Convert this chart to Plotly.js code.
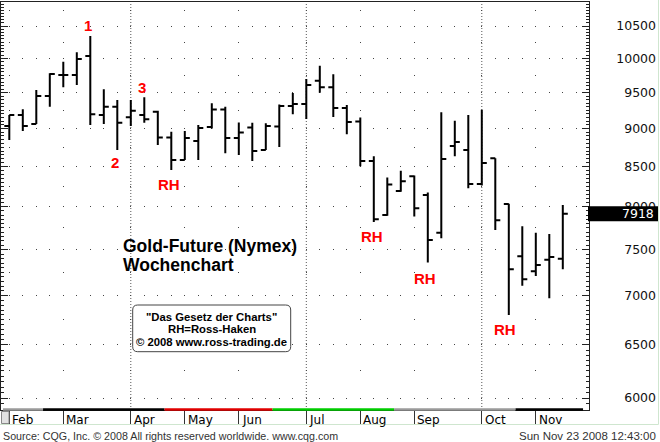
<!DOCTYPE html>
<html><head><meta charset="utf-8">
<script src="https://cdn.plot.ly/plotly-3.0.1.min.js"></script>
<style>html,body{margin:0;padding:0;background:#fff}#chart{width:660px;height:442px}</style>
</head><body><div id="chart"></div>
<script>
// ---- data ----
const weeks = ['2008-02-04','2008-02-11','2008-02-18','2008-02-25','2008-03-03','2008-03-10','2008-03-17','2008-03-24','2008-03-31','2008-04-07','2008-04-14','2008-04-21','2008-04-28','2008-05-05','2008-05-12','2008-05-19','2008-05-26','2008-06-02','2008-06-09','2008-06-16','2008-06-23','2008-06-30','2008-07-07','2008-07-14','2008-07-21','2008-07-28','2008-08-04','2008-08-11','2008-08-18','2008-08-25','2008-09-01','2008-09-08','2008-09-15','2008-09-22','2008-09-29','2008-10-06','2008-10-13','2008-10-20','2008-10-27','2008-11-03','2008-11-10','2008-11-17'];
const open  = [9034,9185,9061,9451,9753,9753,10036,9185,9300,9153,9185,9230,8879,8584,8832,9020,9261,8872,9014,8714,9027,9310,9338,9670,9575,9282,9095,8571,7902,8192,8376,8143,7694,8766,8714,8279,8606,8034,7426,7260,7388,7399];
const high  = [9185,9264,9537,9779,9951,10092,10343,9547,9394,9394,9432,9244,8957,8966,9048,9348,9300,9082,9079,9071,9331,9494,9695,9889,9765,9324,9150,8631,8361,8447,8386,8174,9222,9106,9185,9258,8606,8037,7769,7694,7679,8022];
const low   = [8846,8966,9061,9300,9575,9609,9048,9061,8714,9034,9079,8779,8455,8584,8584,9000,8670,8648,8571,8714,8753,9194,9130,9498,9157,8923,8503,7819,7892,8184,7884,7357,7630,8631,8226,8261,7726,6799,7104,7209,6972,7282];
const close = [9185,9034,9451,9768,9753,9991,9194,9300,9079,9244,9125,8879,8584,8872,9007,9261,8872,8946,8701,9034,9310,9338,9609,9575,9282,9088,8571,7851,8273,8314,7982,7610,8596,8819,8279,8545,7839,7283,7174,7329,7418,7918];
const monthStarts = ['2008-02-04','2008-03-03','2008-04-07','2008-05-05','2008-06-02','2008-07-07','2008-08-04','2008-09-01','2008-10-06','2008-11-03'];
const monthLabels = ['Feb','Mar','Apr','May','Jun','Jul','Aug','Sep','Oct','Nov'];
const quarterStarts = ['2008-04-07','2008-07-07','2008-10-06'];
const priceTicks = [6000,6500,7000,7500,8000,8500,9000,9500,10000,10500];
const trendBreaks = ['2008-01-31 17:00','2008-02-21 12:00','2008-04-24 12:00','2008-06-19 12:00','2008-08-21 12:00','2008-10-23 12:00','2008-11-27 12:00'];
const trendColors = ['#9a9a9a','#000000','#e00000','#00cc00','#9a9a9a','#000000'];
const waveLabels = ['1','2','3','RH','RH','RH','RH'];
const titleLines = ['Gold-Future (Nymex)','Wochenchart'];
const boxLines = ['"Das Gesetz der Charts"','RH=Ross-Haken','© 2008 www.ross-trading.de'];
const sourceText = 'Source: CQG, Inc. © 2008 All rights reserved worldwide. www.cqg.com';
const stampText = 'Sun Nov 23 2008 12:43:00';
const lastClose = close[close.length - 1];

// ---- geometry helpers (pixel -> paper) ----
const L = 1, T = 2, R = 589, B = 410, W = 660;
const px = x => (x - L) / (W - L);
const py = y => (B - y) / (B - T);
const yRange = [3.770373, 4.036865];
const halfBoxFactor = Math.pow(10, 7.5 / ((B - T) / (yRange[1] - yRange[0])));

const minorTicks = []; for (let v = 5900; v <= 10850; v += 50) minorTicks.push(v);
const offTicks = []; for (let v = 6250; v <= 10750; v += 500) offTicks.push(v);

const redPos = [[87.5,25.5],[114.5,162.5],[142,87],[168.5,185],[372,236.5],[425.5,278],[505,329]];
const redFont = {family:'Liberation Sans, Arial, sans-serif', size:15, color:'#ff0000', weight:700};

const annotations = [];
monthStarts.forEach((d,i) => annotations.push({xref:'x', yref:'paper', x:d, y:0, xanchor:'left', yanchor:'top', xshift:1, yshift:-1, text:monthLabels[i], showarrow:false, font:{family:'DejaVu Sans, sans-serif', size:12, color:'#000'}}));
waveLabels.forEach((t,i) => annotations.push({xref:'paper', yref:'paper', x:px(redPos[i][0]), y:py(redPos[i][1]), xanchor:'center', yanchor:'middle', text:t, showarrow:false, font:redFont}));
[[246],[264.5]].forEach((p,i) => annotations.push({xref:'paper', yref:'paper', x:px(121), y:py(p[0]), xanchor:'left', yanchor:'middle', text:titleLines[i], showarrow:false, font:{family:'Liberation Sans, Arial, sans-serif', size:17.5, color:'#000', weight:700}}));
[316.7,328.8,341.5].forEach((yy,i) => annotations.push({xref:'paper', yref:'paper', x:px(212), y:py(yy), xanchor:'center', yanchor:'middle', text:boxLines[i], showarrow:false, font:{family:'Liberation Sans, Arial, sans-serif', size:11.3, color:'#000', weight:700}}));
annotations.push({xref:'paper', yref:'y', x:px(656), y:Math.log10(lastClose), xanchor:'right', yanchor:'middle', text:String(lastClose), showarrow:false, font:{family:'DejaVu Sans, sans-serif', size:12.5, color:'#fff'}});
annotations.push({xref:'paper', yref:'paper', x:px(1), y:py(436), xanchor:'left', yanchor:'middle', text:sourceText, showarrow:false, font:{family:'Liberation Sans, Arial, sans-serif', size:10.7, color:'#333'}});
annotations.push({xref:'paper', yref:'paper', x:px(658), y:py(436), xanchor:'right', yanchor:'middle', text:stampText, showarrow:false, font:{family:'Liberation Sans, Arial, sans-serif', size:11.5, color:'#333'}});

function roundRect(x0,y0,x1,y1,r){
  const X=v=>px(v), Y=v=>py(v);
  return `M${X(x0+r)},${Y(y0)} L${X(x1-r)},${Y(y0)} Q${X(x1)},${Y(y0)} ${X(x1)},${Y(y0+r)} L${X(x1)},${Y(y1-r)} Q${X(x1)},${Y(y1)} ${X(x1-r)},${Y(y1)} L${X(x0+r)},${Y(y1)} Q${X(x0)},${Y(y1)} ${X(x0)},${Y(y1-r)} L${X(x0)},${Y(y0+r)} Q${X(x0)},${Y(y0)} ${X(x0+r)},${Y(y0)} Z`;
}

const shapes = [];
quarterStarts.forEach(d => shapes.push({type:'line', xref:'x', yref:'paper', x0:d, x1:d, y0:0, y1:1, layer:'below', line:{color:'#555', width:1, dash:'1px,2px'}}));
trendColors.forEach((c,i) => shapes.push({type:'line', xref:'x', yref:'paper', x0:trendBreaks[i], x1:trendBreaks[i+1], y0:py(409.5), y1:py(409.5), layer:'above', line:{color:c, width:2.5}}));
shapes.push({type:'path', xref:'paper', yref:'paper', path:roundRect(132.7,305,290.7,351.7,5), fillcolor:'#fff', layer:'above', line:{color:'#444', width:1}});
shapes.push({type:'rect', xref:'paper', yref:'y', y0:lastClose / halfBoxFactor, y1:lastClose * halfBoxFactor, x0:px(588), x1:px(658), fillcolor:'#000', layer:'above', line:{width:0}});
shapes.push({type:'rect', xref:'paper', yref:'paper', x0:px(1.5), x1:px(9), y0:py(411.5), y1:py(423.5), fillcolor:'#e2e2e2', layer:'above', line:{color:'#888', width:1}});
shapes.push({type:'line', xref:'paper', yref:'paper', x0:px(0), x1:px(658.5), y0:py(424.5), y1:py(424.5), line:{color:'#cfe6cf', width:1}});
shapes.push({type:'line', xref:'paper', yref:'paper', x0:px(658.5), x1:px(658.5), y0:py(0), y1:py(424.5), line:{color:'#cfe6cf', width:1}});

const traces = [
  {type:'ohlc', x:weeks, open:open, high:high, low:low, close:close, tickwidth:0.37,
   increasing:{line:{color:'#000', width:2}}, decreasing:{line:{color:'#000', width:2}}, hoverinfo:'skip'},
  {type:'scatter', x:[weeks[0]], y:[8000], yaxis:'y2', mode:'none', hoverinfo:'skip'},
  {type:'scatter', x:[weeks[0]], y:[8000], yaxis:'y3', mode:'none', hoverinfo:'skip'}
];

const layout = {
  width:660, height:442, margin:{l:L, r:0, t:T, b:442-B, pad:0},
  paper_bgcolor:'#fff', plot_bgcolor:'#fff', showlegend:false, dragmode:false,
  xaxis:{type:'date', domain:[0, px(R)], range:['2008-01-30 16:40','2008-11-30 14:00'], rangeslider:{visible:false},
    showgrid:false, zeroline:false, showline:true, linecolor:'#222', linewidth:1, mirror:true,
    tickmode:'array', tickvals:monthStarts, ticks:'outside', ticklen:14, tickcolor:'#333', tickwidth:1, showticklabels:false, fixedrange:true},
  yaxis:{type:'log', range:yRange, side:'right', anchor:'x', tickmode:'array', tickvals:priceTicks, showticklabels:false,
    ticks:'inside', ticklen:7, tickcolor:'#222', showline:true, linecolor:'#222', linewidth:1, mirror:'ticks',
    showgrid:true, gridcolor:'#444', gridwidth:1, griddash:'0px,7.8px,1px,4.7px', zeroline:false,
    minor:{tickmode:'array', tickvals:minorTicks, ticks:'inside', ticklen:3, tickcolor:'#222', showgrid:false}, fixedrange:true},
  yaxis3:{type:'log', range:yRange, overlaying:'y', anchor:'x', side:'right', tickmode:'array', tickvals:offTicks, showticklabels:false,
    ticks:'', showline:false, showgrid:true, gridcolor:'#444', gridwidth:1,
    griddash:'0px,7.8px,1px,53px,1px,66.5px,1px,53px,1px,53px,1px,66.5px,1px,53px,1px,53px,1px,66.5px,1px,53px,1px,60px', zeroline:false, fixedrange:true},
  yaxis2:{type:'log', range:yRange, overlaying:'y', anchor:'free', position:px(656), side:'left', tickmode:'array', tickvals:priceTicks,
    ticktext:priceTicks.map(String), ticks:'', showline:false, showgrid:false, zeroline:false,
    tickfont:{family:'DejaVu Sans, sans-serif', size:12.5, color:'#111'}, fixedrange:true},
  annotations:annotations, shapes:shapes
};

Plotly.newPlot('chart', traces, layout, {displayModeBar:false, staticPlot:true});
</script></body></html>
